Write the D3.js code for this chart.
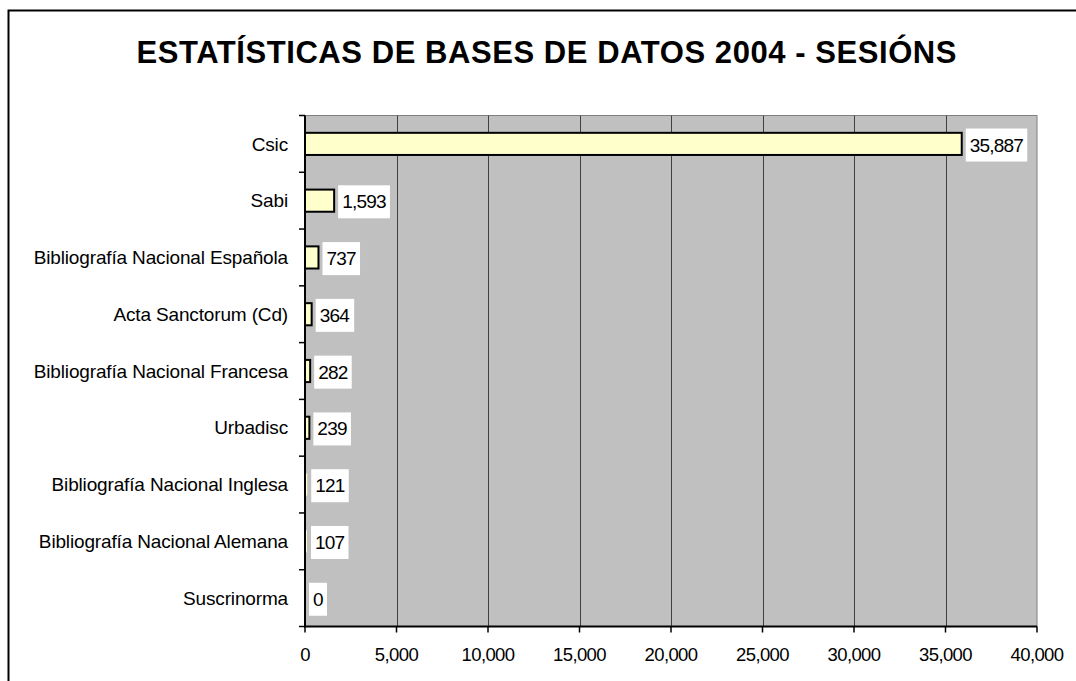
<!DOCTYPE html>
<html>
<head>
<meta charset="utf-8">
<script src="https://cdn.jsdelivr.net/npm/d3@7/dist/d3.min.js"></script>
<style>
  body { margin: 0; background: #fff; }
  svg text { font-family: "Liberation Sans", Arial, sans-serif; fill: #000; }
</style>
</head>
<body>
<div id="chart"></div>
<script>
// Bases de datos 2004 - sesións
const categories = [
    'Csic', 'Sabi', 'Bibliografía Nacional Española', 'Acta Sanctorum (Cd)',
    'Bibliografía Nacional Francesa', 'Urbadisc', 'Bibliografía Nacional Inglesa',
    'Bibliografía Nacional Alemana', 'Suscrinorma'
];
const sessions = [35887, 1593, 737, 364, 282, 239, 121, 107, 0];
const xTicks = [0, 5000, 10000, 15000, 20000, 25000, 30000, 35000, 40000];

const W = 1076, H = 681;
const plot = { left: 305, right: 1037, top: 115.5, bottom: 626.5 };

const svg = d3.select('#chart').append('svg')
    .attr('width', W)
    .attr('height', H);

// outer frame (runs off the picture right and bottom)
svg.append('rect')
    .attr('x', 8.5).attr('y', 10.5)
    .attr('width', 1100).attr('height', 700)
    .attr('fill', 'none')
    .attr('stroke', '#000')
    .attr('stroke-width', 2);

// title
svg.append('text')
    .attr('x', 546.5)
    .attr('y', 63)
    .attr('text-anchor', 'middle')
    .attr('textLength', 820)
    .attr('lengthAdjust', 'spacing')
    .style('font-size', '31px')
    .style('font-weight', 'bold')
    .text('ESTATÍSTICAS DE BASES DE DATOS 2004 - SESIÓNS');

const x = d3.scaleLinear()
    .domain([0, 40000])
    .range([plot.left, plot.right]);

const y = d3.scaleBand()
    .domain(categories)
    .range([plot.top, plot.bottom])
    .padding(0);

const barH = y.step() * 0.39;

// plot background
svg.append('rect')
    .attr('x', plot.left).attr('y', plot.top)
    .attr('width', plot.right - plot.left)
    .attr('height', plot.bottom - plot.top)
    .attr('fill', '#c0c0c0')
    .attr('stroke', '#808080')
    .attr('stroke-width', 1);

// vertical gridlines
svg.selectAll('.grid')
    .data(xTicks.slice(1, -1))
    .enter().append('line')
    .attr('class', 'grid')
    .attr('x1', d => Math.round(x(d)) + 0.5)
    .attr('x2', d => Math.round(x(d)) + 0.5)
    .attr('y1', plot.top)
    .attr('y2', plot.bottom)
    .attr('stroke', '#404040')
    .attr('stroke-width', 1);

// bars
svg.selectAll('.bar')
    .data(sessions)
    .enter().append('rect')
    .attr('class', 'bar')
    .attr('x', x(0))
    .attr('y', (d, i) => y(categories[i]) + (y.bandwidth() - barH) / 2)
    .attr('width', d => x(d) - x(0))
    .attr('height', barH)
    .attr('fill', '#ffffcc')
    .attr('stroke', '#000')
    .attr('stroke-width', d => (x(d) - x(0)) > 3 ? 2 : 0);

// axes lines
svg.append('line')
    .attr('x1', plot.left).attr('x2', plot.left)
    .attr('y1', plot.top).attr('y2', plot.bottom + 1)
    .attr('stroke', '#000').attr('stroke-width', 2);
svg.append('line')
    .attr('x1', plot.left - 1).attr('x2', plot.right)
    .attr('y1', plot.bottom).attr('y2', plot.bottom)
    .attr('stroke', '#000').attr('stroke-width', 2);

// category ticks at band edges
const edges = categories.map(c => y(c)).concat([plot.bottom]);
svg.selectAll('.ytick')
    .data(edges)
    .enter().append('line')
    .attr('x1', plot.left - 6).attr('x2', plot.left)
    .attr('y1', d => d).attr('y2', d => d)
    .attr('stroke', '#000').attr('stroke-width', 1.5);

// value ticks
svg.selectAll('.xtick')
    .data(xTicks)
    .enter().append('line')
    .attr('x1', d => x(d)).attr('x2', d => x(d))
    .attr('y1', plot.bottom).attr('y2', plot.bottom + 6)
    .attr('stroke', '#000').attr('stroke-width', 1.5);

// category labels
svg.selectAll('.ylab')
    .data(categories)
    .enter().append('text')
    .attr('x', plot.left - 17)
    .attr('y', d => y(d) + y.bandwidth() / 2)
    .attr('dy', '0.35em')
    .attr('text-anchor', 'end')
    .style('font-size', '19px')
    .style('letter-spacing', '-0.15px')
    .text(d => d);

// value axis labels
svg.selectAll('.xlab')
    .data(xTicks)
    .enter().append('text')
    .attr('x', d => x(d))
    .attr('y', plot.bottom + 34)
    .attr('text-anchor', 'middle')
    .style('font-size', '18.5px')
    .style('letter-spacing', '-0.6px')
    .text(d => d3.format(',')(d));

// data labels with white boxes
const fmt = d3.format(',');
const labels = svg.selectAll('.vlab')
    .data(sessions)
    .enter().append('g')
    .attr('class', 'vlab');

labels.append('rect').attr('fill', '#fff');
labels.append('text')
    .attr('x', d => x(d) + 8)
    .attr('y', (d, i) => y(categories[i]) + y.bandwidth() / 2 + 1)
    .attr('dy', '0.35em')
    .style('font-size', '19px')
    .style('letter-spacing', '-0.8px')
    .text(d => fmt(d));

labels.each(function() {
    const g = d3.select(this);
    const bb = g.select('text').node().getBBox();
    g.select('rect')
        .attr('x', bb.x - 4)
        .attr('y', bb.y + bb.height / 2 - 16.5)
        .attr('width', bb.width + 8)
        .attr('height', 33);
});
</script>
</body>
</html>
